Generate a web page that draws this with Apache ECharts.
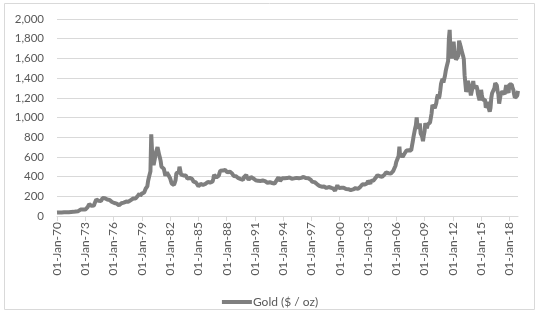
<!DOCTYPE html>
<html><head><meta charset="utf-8">
<script src="https://cdn.jsdelivr.net/npm/echarts@6/dist/echarts.min.js"></script>
<style>html,body{margin:0;padding:0;background:#fff}#c{width:540px;height:313px}</style>
</head><body><div id="c"></div><script>
// Tick labels on the x axis (every 36 months from Jan 1970)
const tickLabels = ['01-Jan-70','01-Jan-73','01-Jan-76','01-Jan-79','01-Jan-82','01-Jan-85','01-Jan-88','01-Jan-91','01-Jan-94','01-Jan-97','01-Jan-00','01-Jan-03','01-Jan-06','01-Jan-09','01-Jan-12','01-Jan-15','01-Jan-18'];
const seriesName = 'Gold ($ / oz)';
// Monthly gold price, Jan 1970 .. Dec 2018
const gold = [
/*1970*/ 35,35,35,36,36,35,35,36,36,37,37,37,
/*1971*/ 38,39,39,39,40,40,41,42,42,42,43,43,
/*1972*/ 46,48,48,49,54,62,65,67,65,65,63,64,
/*1973*/ 65,75,84,90,102,120,118,106,103,100,95,106,
/*1974*/ 130,150,168,172,163,154,143,154,151,158,182,186,
/*1975*/ 176,180,178,170,167,164,165,163,144,143,142,140,
/*1976*/ 131,132,132,128,126,125,118,108,114,118,130,134,
/*1977*/ 132,136,148,149,146,141,144,145,150,158,162,161,
/*1978*/ 173,178,184,175,177,183,188,206,212,227,206,208,
/*1979*/ 227,245,242,239,257,279,295,301,355,391,392,455,
/*1980*/ 830,665,553,517,514,600,645,627,700,662,623,594,
/*1981*/ 557,500,499,495,480,460,409,410,443,437,413,410,
/*1982*/ 384,374,330,350,333,315,339,364,435,422,415,444,
/*1983*/ 500,491,420,432,437,412,423,416,411,393,381,388,
/*1984*/ 370,386,394,381,377,378,348,347,341,340,341,320,
/*1985*/ 303,299,304,325,316,316,317,330,323,326,325,321,
/*1986*/ 345,338,346,340,342,343,348,376,418,423,398,391,
/*1987*/ 408,401,409,438,460,450,451,461,460,465,467,487,
/*1988*/ 477,442,443,452,451,451,437,432,413,406,420,419,
/*1989*/ 404,388,390,384,371,367,375,365,362,367,394,409,
/*1990*/ 410,416,393,374,369,352,362,395,389,381,381,378,
/*1991*/ 383,363,363,358,357,367,368,356,348,358,360,361,
/*1992*/ 354,354,345,338,337,341,353,343,345,344,335,334,
/*1993*/ 329,329,330,342,367,372,392,379,355,364,374,383,
/*1994*/ 387,382,384,377,381,385,385,380,391,389,384,379,
/*1995*/ 379,376,382,391,385,387,386,383,383,383,386,387,
/*1996*/ 400,405,396,393,392,385,383,387,383,381,378,369,
/*1997*/ 355,347,352,344,344,341,324,324,323,325,306,289,
/*1998*/ 289,297,296,308,299,292,293,284,289,296,294,291,
/*1999*/ 287,287,286,282,277,261,256,257,264,311,293,283,
/*2000*/ 284,300,286,280,275,286,282,275,273,270,266,272,
/*2001*/ 266,262,263,261,272,270,268,273,283,283,276,276,
/*2002*/ 282,296,294,302,314,322,314,310,319,317,319,333,
/*2003*/ 357,359,340,328,355,356,351,360,379,379,390,407,
/*2004*/ 414,405,406,404,384,392,398,400,406,420,439,442,
/*2005*/ 424,423,434,429,422,431,424,437,456,470,476,510,
/*2006*/ 549,555,557,610,705,596,633,632,598,585,627,629,
/*2007*/ 631,665,655,679,667,655,665,665,712,754,806,803,
/*2008*/ 889,922,1000,909,888,889,939,839,829,806,760,816,
/*2009*/ 858,943,924,890,928,946,934,949,996,1043,1127,1135,
/*2010*/ 1118,1095,1113,1148,1205,1232,1193,1215,1271,1342,1370,1391,
/*2011*/ 1356,1372,1424,1473,1510,1529,1573,1800,1890,1665,1750,1600,
/*2012*/ 1656,1770,1673,1650,1585,1596,1594,1630,1780,1747,1721,1684,
/*2013*/ 1671,1627,1593,1430,1414,1260,1286,1370,1349,1316,1275,1225,
/*2014*/ 1244,1300,1370,1299,1287,1279,1320,1296,1239,1222,1176,1200,
/*2015*/ 1280,1227,1179,1198,1199,1181,1100,1117,1125,1159,1086,1060,
/*2016*/ 1097,1200,1246,1242,1260,1300,1350,1341,1326,1267,1238,1140,
/*2017*/ 1192,1234,1231,1266,1246,1260,1236,1283,1330,1280,1282,1250,
/*2018*/ 1335,1331,1325,1335,1303,1282,1238,1202,1198,1215,1221,1270
];

const chart = echarts.init(document.getElementById('c'), null, {renderer:'canvas'});
const txt = '#595959';
const font = 'Lato, "Liberation Sans", sans-serif';
chart.setOption({
  animation: false,
  graphic: [{type:'rect', shape:{x:4.5,y:3.5,width:530,height:306}, style:{fill:'none', stroke:'#d9d9d9', lineWidth:1}, silent:true}],
  grid: {left:57, right:22, top:19, bottom:97, containLabel:false},
  xAxis: {
    type:'value', min:0, max:gold.length-1, interval:36,
    axisLine:{show:true, lineStyle:{color:'#d9d9d9'}},
    axisTick:{show:true, length:5, lineStyle:{color:'#d9d9d9'}},
    splitLine:{show:false},
    axisLabel:{rotate:90, color:txt, fontFamily:font, fontSize:12, margin:6, showMaxLabel:false,
      formatter: v => (v % 36 === 0 && tickLabels[v/36]) ? tickLabels[v/36] : ''}
  },
  yAxis: {
    type:'value', min:0, max:2000, interval:200,
    axisLine:{show:false}, axisTick:{show:false},
    splitLine:{lineStyle:{color:'#d9d9d9'}},
    axisLabel:{color:txt, fontFamily:font, fontSize:11.5, margin:13,
      formatter: v => v.toLocaleString('en-US')}
  },
  legend: {
    top: 291, left:'center', icon:'rect', itemWidth:30, itemHeight:4, itemGap:4,
    textStyle:{color:txt, fontFamily:font, fontSize:12, padding:[0,0,0,-4]},
    data:[seriesName]
  },
  series: [{
    name: seriesName, type:'line', symbol:'none', showSymbol:false,
    lineStyle:{width:4, color:'#7f7f7f'}, itemStyle:{color:'#7f7f7f'},
    data: gold.map((v,i)=>[i,v])
  }]
});
</script></body></html>
